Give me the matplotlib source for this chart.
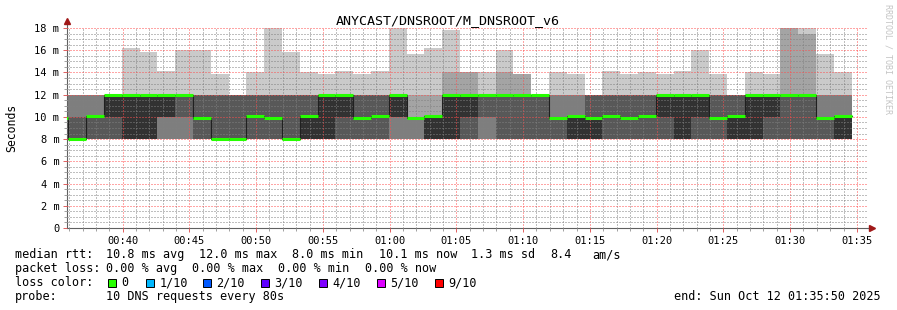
import matplotlib.pyplot as plt
from matplotlib.lines import Line2D
import numpy as np

plt.rcParams['font.family'] = ['DejaVu Sans Mono', 'DejaVu Sans']

W, H = 897, 310

# time axis in seconds from 00:35:50, one column = one 80 s step
step = 80
first_edge = -74   # the partial step before the left edge

# 10 sorted ping rtt values (ms) per step
pings = [
    [8, 8, 8, 8, 10, 10, 10, 12, 12, 15.7],
    [8, 8, 8, 8, 8, 8, 10, 12, 12, 12],
    [8, 8, 8, 8, 10, 10, 10, 12, 12, 12],
    [8, 8, 8, 8, 10, 12, 12, 12, 12, 12],
    [8, 8, 8, 8, 8, 12, 12, 12, 12, 16.2],
    [8, 8, 8, 8, 8, 12, 12, 12, 12, 15.8],
    [8, 8, 8, 10, 10, 12, 12, 12, 12, 14.1],
    [8, 8, 8, 10, 12, 12, 12, 12, 12, 16.0],
    [8, 8, 8, 8, 10, 10, 12, 12, 12, 16.0],
    [8, 8, 8, 8, 8, 8, 12, 12, 12, 13.9],
    [8, 8, 8, 8, 8, 8, 12, 12, 12, 12],
    [8, 8, 8, 8, 10, 10, 12, 12, 12, 14.0],
    [8, 8, 8, 8, 10, 10, 12, 12, 12, 18.0],
    [8, 8, 8, 8, 8, 8, 12, 12, 12, 15.8],
    [8, 8, 8, 8, 8, 10, 12, 12, 12, 14.0],
    [8, 8, 8, 8, 8, 12, 12, 12, 12, 13.9],
    [8, 8, 8, 8, 10, 12, 12, 12, 12, 14.1],
    [8, 8, 8, 8, 10, 10, 12, 12, 12, 13.9],
    [8, 8, 8, 8, 10, 10, 12, 12, 12, 14.1],
    [8, 8, 8, 10, 10, 12, 12, 12, 12, 18.0],
    [8, 8, 8, 10, 10, 10, 10, 10, 12, 15.7],
    [8, 8, 8, 8, 8, 10, 10, 10, 12, 16.2],
    [8, 8, 8, 8, 8, 12, 12, 12, 14, 17.8],
    [8, 8, 8, 8, 10, 12, 12, 12, 14, 14],
    [8, 8, 8, 10, 12, 12, 12, 12, 12, 14],
    [8, 8, 8, 8, 12, 12, 12, 12, 14, 16],
    [8, 8, 8, 8, 12, 12, 12, 12, 13.9, 13.9],
    [8, 8, 8, 8, 12, 12, 12, 12, 12, 12],
    [8, 8, 8, 8, 10, 10, 10, 12, 12, 14.0],
    [8, 8, 8, 8, 8, 10, 10, 12, 12, 13.9],
    [8, 8, 8, 8, 8, 10, 12, 12, 12, 12],
    [8, 8, 8, 8, 10, 10, 12, 12, 12, 14.1],
    [8, 8, 8, 8, 10, 10, 12, 12, 12, 13.9],
    [8, 8, 8, 8, 10, 10, 12, 12, 12, 14.0],
    [8, 8, 8, 8, 10, 12, 12, 12, 12, 13.9],
    [8, 8, 8, 8, 8, 12, 12, 12, 12, 14.1],
    [8, 8, 8, 8, 10, 12, 12, 12, 12, 16.0],
    [8, 8, 8, 8, 10, 10, 12, 12, 12, 13.9],
    [8, 8, 8, 8, 8, 10, 12, 12, 12, 12],
    [8, 8, 8, 8, 8, 12, 12, 12, 12, 14.0],
    [8, 8, 8, 8, 10, 12, 12, 12, 12, 13.9],
    [8, 8, 8, 8, 12, 12, 12, 12, 18, 18],
    [8, 8, 8, 8, 12, 12, 12, 12, 17.5, 18],
    [8, 8, 8, 8, 10, 10, 10, 12, 12, 15.7],
    [8, 8, 8, 8, 8, 10, 10, 12, 12, 14.0],
]

median = [9.9, 8.0, 10.1, 12, 12, 12, 12, 12, 9.9, 8.0, 8.0, 10.1, 9.9, 8.0, 10.1,
          12, 12, 9.9, 10.1, 12, 9.9, 10.1, 12, 12, 12, 12, 12, 12, 9.9, 10.1,
          9.9, 10.1, 9.9, 10.1, 12, 12, 12, 9.9, 10.1, 12, 12, 12, 12, 9.9, 10.1]

# smokeping grey shades, outer pair first
smoke_colors = ['#cacaca', '#a4a4a4', '#7e7e7e', '#585858', '#323232']

tick_labels = ['00:40', '00:45', '00:50', '00:55', '01:00', '01:05',
               '01:10', '01:15', '01:20', '01:25', '01:30', '01:35']

loss_labels = ['0', '1/10', '2/10', '3/10', '4/10', '5/10', '9/10']
loss_colors = ['#26ff00', '#00b8ff', '#0059ff', '#5e00ff', '#7e00ff', '#dd00ff', '#ff0000']

rtt_items = ['10.8 ms avg', '12.0 ms max', '8.0 ms min', '10.1 ms now', '1.3 ms sd', '8.4', 'am/s']
loss_items = ['0.00 % avg', '0.00 % max', '0.00 % min', '0.00 % now']

# ---- figure
fig = plt.figure(figsize=(W / 100, H / 100), dpi=100)
fig.patch.set_facecolor('white')
ax = fig.add_axes([67 / W, 1 - 228 / H, 801 / W, 200 / H])

P = np.array(pings, dtype=float)
med = np.array(median, dtype=float)
edges = first_edge + step * np.arange(len(P) + 1)

# smoke: band i goes from ping i to ping n-1-i, darker towards the middle
for i, c in enumerate(smoke_colors):
    lo = np.append(P[:, i], P[-1, i])
    hi = np.append(P[:, 9 - i], P[-1, 9 - i])
    ax.fill_between(edges, lo, hi, step='post', color=c, lw=0, zorder=1)

# median: thin dark step line + loss coloured bar
ax.step(edges, np.append(med, med[-1]), where='post', color='#202020', lw=0.8, zorder=3)
ax.hlines(med, edges[:-1], edges[1:], color=loss_colors[0], lw=2.2, zorder=4,
          capstyle='butt')

ax.set_xlim(0, 3600)
ax.set_ylim(0, 18)

ax.set_xticks(250 + 300 * np.arange(len(tick_labels)))
ax.set_xticklabels(tick_labels)
ax.set_xticks(np.arange(10, 3600, 60), minor=True)
ax.set_yticks(np.arange(0, 19, 2))
ax.set_yticklabels(['0'] + ['%d m' % v for v in range(2, 19, 2)])
ax.set_yticks(np.arange(0, 18.01, 0.5), minor=True)

ax.set_axisbelow(False)
ax.grid(which='minor', color=(0.5, 0.5, 0.5, 0.22), ls=(0, (1, 2)), lw=0.72)
ax.grid(which='major', color=(1, 0.3, 0.3, 0.42), ls=(0, (1, 2)), lw=0.72)

ax.tick_params(which='major', length=3, width=0.7, color='#e06060', labelsize=7.5, pad=2.5)
ax.tick_params(which='minor', length=2, width=0.7, color='#a0a0a0')
ax.tick_params(axis='x', pad=3)

for s in ['top', 'right']:
    ax.spines[s].set_visible(False)
for s in ['left', 'bottom']:
    ax.spines[s].set_color('#606060')
    ax.spines[s].set_linewidth(0.8)

# axis arrows like rrdtool
ax.add_line(Line2D([0, 0], [1, 1.035], transform=ax.transAxes, color='#606060',
                   lw=0.8, clip_on=False))
ax.add_line(Line2D([1, 1.004], [0, 0], transform=ax.transAxes, color='#606060',
                   lw=0.8, clip_on=False))
ax.plot([0], [1.035], marker='^', ms=4, color='#a01818', transform=ax.transAxes, clip_on=False)
ax.plot([1.005], [0], marker='>', ms=4, color='#a01818', transform=ax.transAxes, clip_on=False)

ax.set_ylabel('Seconds', fontsize=8.3)
ax.yaxis.set_label_coords(-49 / 801, 0.5)

# ---- texts around the plot
def fx(x):
    return x / W

def fy(y):
    return 1 - y / H

fig.text(fx(448), fy(24), 'ANYCAST/DNSROOT/M_DNSROOT_v6', ha='center', va='baseline',
         fontsize=9.6)
fig.text(fx(888), fy(4), 'RRDTOOL / TOBI OETIKER', rotation=270, ha='center', va='top',
         fontsize=6, color='#c4c4c4')

fs = 8.45
fig.text(fx(15), fy(258), 'median rtt:', fontsize=fs, va='baseline')
for x, s in zip([106.3, 199, 292.3, 379, 471.3, 550, 592.3], rtt_items):
    fig.text(fx(x), fy(258), s, fontsize=fs, va='baseline')
fig.text(fx(15), fy(272), 'packet loss:', fontsize=fs, va='baseline')
for x, s in zip([106.3, 192.3, 278.3, 364.7], loss_items):
    fig.text(fx(x), fy(272), s, fontsize=fs, va='baseline')
fig.text(fx(15), fy(286), 'loss color:', fontsize=fs, va='baseline')
box_x = [108, 146, 203, 261, 318.5, 377, 435]
for bx, lab, col in zip(box_x, loss_labels, loss_colors):
    fig.patches.append(plt.Rectangle((fx(bx), fy(286.5)), 8 / W, 8 / H, transform=fig.transFigure,
                                     facecolor=col, edgecolor='black', lw=0.7))
    fig.text(fx(bx + 13.5), fy(286), lab, fontsize=fs, va='baseline')
fig.text(fx(15), fy(300), 'probe:', fontsize=fs, va='baseline')
fig.text(fx(106.3), fy(300), '10 DNS requests every 80s', fontsize=fs, va='baseline')
fig.text(fx(880.5), fy(300), 'end: Sun Oct 12 01:35:50 2025', fontsize=fs, va='baseline', ha='right')

fig.savefig('out.png', dpi=100, facecolor='white')
